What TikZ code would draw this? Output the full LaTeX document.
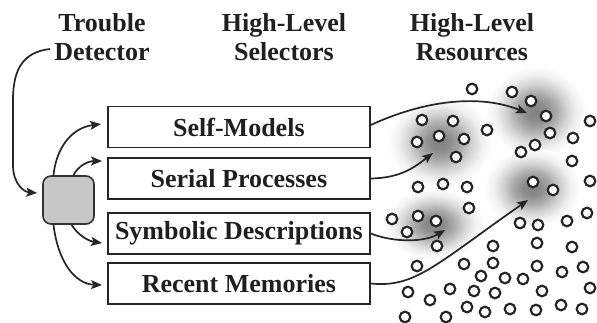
\documentclass[tikz,border=0pt]{standalone}
\usepackage{fontspec}
\setmainfont{Liberation Serif}
\usetikzlibrary{arrows.meta}
\pgfdeclareradialshading{blob}{\pgfpoint{0bp}{0bp}}{color(0bp)=(black!50); color(5bp)=(black!45); color(10bp)=(black!33); color(15bp)=(black!18); color(20bp)=(black!6); color(25bp)=(white); color(50bp)=(white)}
\begin{document}
\begin{tikzpicture}[x=1pt,y=-1pt,
  hdr/.style={font=\fontsize{26}{30}\selectfont\bfseries, inner sep=0pt, anchor=base, text=black!88},
  selbox/.style={draw=black!85, line width=1.8pt, minimum width=262pt, minimum height=41pt, inner sep=0pt, anchor=west, font=\fontsize{26}{30}\selectfont\bfseries, text=black!88},
  arr/.style={line width=1.7pt, draw=black!85, -{Stealth[length=11pt,width=9pt,inset=2.5pt]}},
  res/.style={draw=black!85, line width=2.2pt, fill=white},
  trbox/.style={draw=black!80, line width=1.6pt, fill=black!22, rounded corners=8pt, minimum width=51pt, minimum height=48pt, inner sep=0pt}]
\useasboundingbox (0,0) rectangle (597,323);

% headers
\node[hdr] (h1a) at (102,32) {Trouble};
\node[hdr] (h1b) at (102,61) {Detector};
\node[hdr] (h2a) at (284,32) {High-Level};
\node[hdr] (h2b) at (284,61) {Selectors};
\node[hdr] (h3a) at (472,32) {High-Level};
\node[hdr] (h3b) at (472,61) {Resources};

% glow blobs
\shade[shading=blob] (440,142) ellipse [x radius=52pt, y radius=46pt];
\shade[shading=blob] (536,112) ellipse [x radius=50pt, y radius=46pt];
\shade[shading=blob] (532,188) ellipse [x radius=48pt, y radius=40pt];
\shade[shading=blob] (434,224) ellipse [x radius=50pt, y radius=36pt];

% resource circles
\foreach \p in {(472,89),(512,92),(531,101),(546,116),(590,121),(422,120),(453,121),(487,130),(417,142),(439,136),(464,139),(550,133),(573,138),(521,152),(535,145),(456,157),(572,161),(418,187),(443,184),(467,187),(590,181),(533,182),(553,190),(469,208),(392,219),(418,216),(436,221),(407,232),(437,246),(520,223),(538,225),(567,221),(587,213),(493,246),(537,243),(572,247),(417,266),(464,264),(493,263),(481,276),(505,278),(523,279),(537,266),(562,272),(583,267),(590,288),(408,292),(430,300),(450,289),(474,291),(495,293),(542,291),(467,307),(485,312),(510,309),(536,310),(561,305),(582,309),(405,317),(446,317)}
  \draw[res] \p circle (5.3pt);

% selector boxes
\node[selbox] (sm) at (107,127) {Self-Models};
\node[selbox] (sp) at (107,178.5) {Serial Processes};
\node[selbox] (sd) at (107,233.5) {Symbolic Descriptions};
\node[selbox] (rm) at (107,283.5) {Recent Memories};

% trouble detector box
\node[trbox] (gb) at (68.5,200) {};

% trouble detector arrow
\coordinate (tstart) at (50,49);
\draw[arr] (tstart) .. controls (24,52) and (13,68) .. (13,100) -- (13,165) .. controls (13,184) and (24,192) .. ([xshift=-5pt,yshift=7pt]gb.west);

% detector to selectors
\draw[arr] ([xshift=-15pt]gb.north) .. controls (56,150) and (70,128) .. ([xshift=-6pt,yshift=3pt]sm.west);
\draw[arr] ([xshift=5pt]gb.north) .. controls (78,166) and (88,161) .. ([xshift=-5pt,yshift=17.5pt]sp.west);
\draw[arr] ([xshift=3pt]gb.south) .. controls (78,235) and (88,241) .. ([xshift=-5pt,yshift=-9.5pt]sd.west);
\draw[arr] ([xshift=-15pt]gb.south) .. controls (58,262) and (75,284) .. ([xshift=-5pt,yshift=-1.5pt]rm.west);

% selectors to resources
\coordinate (tipA) at (527,113);
\coordinate (tipB) at (433,153);
\coordinate (tipC) at (445,230);
\coordinate (tipD) at (528,200);
\draw[arr] ([yshift=2pt]sm.east) .. controls (425,100) and (480,94) .. (tipA);
\draw[arr] (sp.east) .. controls (402,178) and (416,166) .. (tipB);
\draw[arr] (sd.east) .. controls (395,243) and (425,242) .. (tipC);
\draw[arr] (rm.east) .. controls (415,288) and (435,265) .. (tipD);
\end{tikzpicture}
\end{document}
